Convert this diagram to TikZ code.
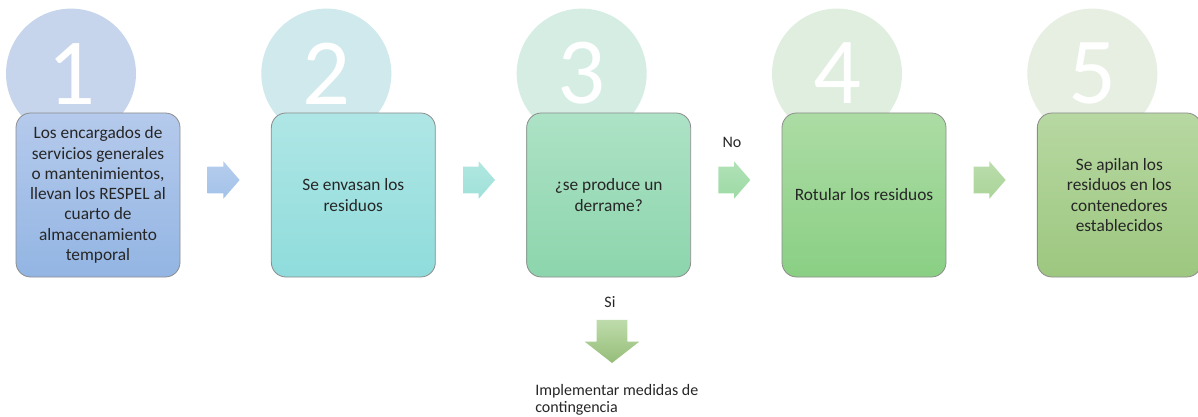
\documentclass[tikz,border=0pt]{standalone}
\usepackage{fontspec}
\setmainfont{Carlito}
\usetikzlibrary{positioning,shapes.arrows,backgrounds}

% colores de los pasos
\definecolor{circA}{HTML}{C6D5EB}
\definecolor{circB}{HTML}{CFE9EC}
\definecolor{circC}{HTML}{D6EDE4}
\definecolor{circD}{HTML}{DFEEDE}
\definecolor{circE}{HTML}{E7EFE2}
\definecolor{topA}{HTML}{B5CAEC}\definecolor{botA}{HTML}{93B5E3}
\definecolor{topB}{HTML}{AFE6E5}\definecolor{botB}{HTML}{8FDCDC}
\definecolor{topC}{HTML}{ADE2C6}\definecolor{botC}{HTML}{8CD5AC}
\definecolor{topD}{HTML}{ACDCA4}\definecolor{botD}{HTML}{8ACF84}
\definecolor{topE}{HTML}{B7D8A2}\definecolor{botE}{HTML}{9DC77F}
\definecolor{flA}{HTML}{A3C1E9}
\definecolor{flB}{HTML}{9EE1D9}
\definecolor{flC}{HTML}{9DDAA5}
\definecolor{flD}{HTML}{AAD498}
\definecolor{texto}{HTML}{262626}

\begin{document}
\begin{tikzpicture}[
        x=0.75pt, y=-0.75pt,
        node distance=67.9pt,
        paso/.style={rectangle, draw=black!45, line width=0.6pt, rounded corners=11pt, minimum width=123pt, minimum height=123pt, align=center, inner sep=0pt, text=texto, font=\fontsize{13}{15.2}\selectfont},
        numero/.style={circle, minimum size=97.5pt, inner sep=0pt, text=white, font=\fontsize{71}{71}\selectfont},
        flecha/.style={single arrow, minimum height=24pt, inner xsep=0pt, inner ysep=9.75pt, single arrow head extend=4.1pt, single arrow tip angle=98},
        etiqueta/.style={text=texto, font=\fontsize{12}{15}\selectfont}
    ]
        \useasboundingbox (0,0) rectangle (1198,417);

        % Pasos
        \node[paso, top color=topA, bottom color=botA] (b1) at (98,195) {Los encargados de\\servicios generales\\o mantenimientos,\\llevan los RESPEL al\\cuarto de\\almacenamiento\\temporal};
        \node[paso, top color=topB, bottom color=botB, right=of b1] (b2) {Se envasan los\\residuos};
        \node[paso, top color=topC, bottom color=botC, right=of b2] (b3) {¿se produce un\\derrame?};
        \node[paso, top color=topD, bottom color=botD, right=of b3] (b4) {Rotular los residuos};
        \node[paso, top color=topE, bottom color=botE, right=of b4] (b5) {Se apilan los\\residuos en los\\contenedores\\establecidos};

        % Circulos con el numero del paso
        \begin{scope}[on background layer]
            \foreach \i/\col in {1/circA, 2/circB, 3/circC, 4/circD, 5/circE}
                \node[numero, fill=\col] (n\i) at ([xshift=-20.25pt, yshift=29.25pt]b\i.north) {\i};
        \end{scope}

        % Flechas entre pasos
        \foreach \i/\col in {1/flA, 2/flB, 3/flC, 4/flD}
            \node[flecha, top color=\col!80!white, bottom color=\col, right=20.25pt of b\i, yshift=11.25pt] (f\i) {};

        \node[etiqueta] (no) at ([xshift=2.5pt, yshift=28.5pt]f3.center) {No};

        % Rama del derrame
        \node[etiqueta] (si) at (610,302) {Si};
        \node[flecha, shape border rotate=270, top color=topE!90!white, bottom color=botE!95!black, minimum height=32.25pt, inner xsep=11.25pt, inner ysep=0pt, single arrow head extend=9pt, single arrow tip angle=104] (f5) at (612,335.5) {};
        \node[etiqueta, font=\fontsize{12}{12.5}\selectfont, align=left, anchor=north west, inner sep=0pt] (medidas) at (535,384) {Implementar medidas de\\contingencia};

\end{tikzpicture}
\end{document}
